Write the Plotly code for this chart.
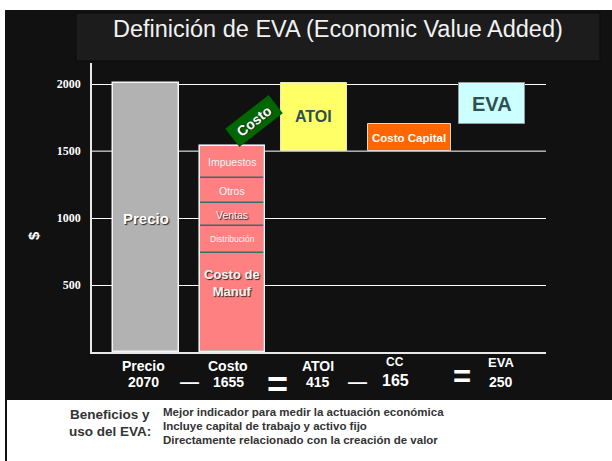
import plotly.graph_objects as go

# ---------------- data ----------------
categories = ["Precio", "Costo", "ATOI", "CC", "EVA"]
formula_values = [2070, 1655, 415, 165, 250]

precio_height = 2010
costo_parts = ["Costo de<br>Manuf", "Distribución", "Ventas", "Otros", "Impuestos"]
costo_heights = [740, 200, 170, 190, 240]
atoi_base, atoi_height = 1500, 510
cc_base, cc_height = 1500, 200
eva_base, eva_height = 1700, 310

yticks = [500, 1000, 1500, 2000]

title_text = "Definición de EVA (Economic Value Added)"
benefit_head = ["Beneficios y", "uso del EVA:"]
benefit_lines = [
    "Mejor indicador para medir la actuación económica",
    "Incluye capital de trabajo y activo fijo",
    "Directamente relacionado con la creación de valor",
]

# ---------------- layout helpers ----------------
W_PX, H_PX = 612, 461
L, R, T, B = 92, 546, 63, 352
PW, PH = R - L, B - T
XR = [-0.624, 4.624]


def px(x):
    return (x - L) / PW


def py(y):
    return (B - y) / PH


SANS = "Liberation Sans, Arial, sans-serif"
SERIF = "Liberation Serif, Times New Roman, serif"
SHADOW = "1px 1px 1px #222"
SLATE = "#2F5050"

# small horizontal nudges (category units) for the boxes
shift = [0.0, 0.0, -0.058, 0.046, 0.0]
widths = [0.76, 0.76, 0.76, 0.97, 0.77]


def bar(idx, heights, bases_, color, line_color, line_w, n=1):
    return go.Bar(x=[categories[idx]] * n, y=heights, base=bases_, width=widths[idx],
                  offset=-widths[idx] / 2 + shift[idx],
                  marker=dict(color=color, line=dict(color=line_color, width=line_w)),
                  hoverinfo="skip", showlegend=False)


fig = go.Figure()

fig.add_trace(bar(0, [precio_height], [0], "#B2B2B2", "#F4F4F4", 1.5))

bases = []
acc = 0
for h in costo_heights:
    bases.append(acc)
    acc += h
fig.add_trace(bar(1, costo_heights, bases, "#FF8080", "#3C6A6A", 1.5, n=len(costo_heights)))
fig.add_trace(bar(1, [acc], [0], "rgba(0,0,0,0)", "#F4F4F4", 1.5))

fig.add_trace(bar(2, [atoi_height], [atoi_base], "#FFFF66", "#E8E8C0", 1))
fig.add_trace(bar(3, [cc_height], [cc_base], "#FF6600", "#D8D8D8", 1))
fig.add_trace(bar(4, [eva_height], [eva_base], "#CCFFFF", "#9A9A9A", 1))

shapes = [
    dict(type="rect", xref="paper", yref="paper", x0=px(6), x1=px(612), y0=py(400), y1=py(10),
         fillcolor="#111111", line=dict(width=0), layer="below"),
    dict(type="line", xref="paper", yref="paper", x0=px(6), x1=px(6), y0=py(461), y1=py(10),
         line=dict(color="#111111", width=2), layer="below"),
    dict(type="rect", xref="paper", yref="paper", x0=px(76), x1=px(600), y0=py(61), y1=py(13),
         fillcolor="#1C1C1C", line=dict(color="#0A0A0A", width=1), layer="below"),
    # gray 1500 gridline (over the grid, under the bars)
    dict(type="line", xref="x", yref="y", x0=XR[0], x1=XR[1], y0=1500, y1=1500,
         line=dict(color="#8C8C8C", width=1.5), layer="between"),
]

ann = []


def add(**kw):
    kw.setdefault("showarrow", False)
    kw.setdefault("xanchor", "center")
    kw.setdefault("yanchor", "middle")
    kw.setdefault("xref", "paper")
    kw.setdefault("yref", "paper")
    ann.append(kw)


add(text=title_text, x=px(338), y=py(29), font=dict(family=SANS, size=23.5, color="#F2F2F2"))
add(text="$", x=px(33), y=py(235), textangle=-90,
    font=dict(family=SANS, size=15, color="white", weight="bold"))

add(text="Precio", x=0, y=1000, xref="x", yref="y",
    font=dict(family=SANS, size=15, color="white", weight="bold", shadow=SHADOW))
seg_sizes = [13, 8.5, 10.5, 10.5, 10.5]
for i, (name, h) in enumerate(zip(costo_parts, costo_heights)):
    yy = bases[i] + h / 2 if i > 0 else bases[i] + h * 0.7
    add(text=name, x=1, y=yy, xref="x", yref="y",
        font=dict(family=SANS, size=seg_sizes[i], color="#F6F6F6",
                  weight="bold" if i == 0 else "normal",
                  shadow=SHADOW if i in (0, 2) else "none"))
add(text="ATOI", x=2 + shift[2], y=1755, xref="x", yref="y",
    font=dict(family=SANS, size=16, color=SLATE, weight="bold"))
add(text="Costo Capital", x=3 + shift[3], y=cc_base + cc_height / 2, xref="x", yref="y",
    font=dict(family=SANS, size=11.5, color="white", weight="bold"))
add(text="EVA", x=4, y=1850, xref="x", yref="y",
    font=dict(family=SANS, size=20, color=SLATE, weight="bold"))

add(text="Costo", x=px(254), y=py(121), textangle=-38, bgcolor="#006600", borderpad=3, width=48,
    font=dict(family=SANS, size=14, color="white", weight="bold", shadow=SHADOW))

label_x = [143, 228, 318, 395, 501]
label_y = [366, 366, 366, 362, 362]
value_y = [382, 382, 382, 380, 382]
label_sizes = [14, 14, 14, 12, 13]
value_sizes = [14, 14, 14, 16, 14]
for c, v, lx, ly, vy, ls, vs in zip(categories, formula_values, label_x, label_y, value_y,
                                    label_sizes, value_sizes):
    add(text=c, x=px(lx), y=py(ly), font=dict(family=SANS, size=ls, color="white", weight="bold"))
    add(text=str(v), x=px(lx), y=py(vy), font=dict(family=SANS, size=vs, color="white", weight="bold"))

ops = [("—", 189, 381, 19), ("=", 277, 384, 36), ("—", 357, 381, 19), ("=", 462, 376, 31)]
for sym, ox, oy, sz in ops:
    add(text=sym, x=px(ox), y=py(oy), font=dict(family=SANS, size=sz, color="white", weight="bold"))

for txt, yy in zip(benefit_head, [414, 431]):
    add(text=txt, x=px(110), y=py(yy), font=dict(family=SANS, size=13.5, color="#333333", weight="bold"))
for txt, yy in zip(benefit_lines, [412, 426, 440]):
    add(text=txt, x=px(161), y=py(yy), xanchor="left",
        font=dict(family=SANS, size=11.5, color="#333333", weight="bold"))

fig.update_layout(
    width=W_PX, height=H_PX, autosize=False,
    margin=dict(l=L, r=W_PX - R, t=T, b=H_PX - B, pad=0),
    paper_bgcolor="white", plot_bgcolor="rgba(0,0,0,0)",
    barmode="overlay", bargap=0,
    shapes=shapes, annotations=ann,
    xaxis=dict(type="category", categoryorder="array", categoryarray=categories,
               range=XR, showgrid=False, zeroline=False,
               showline=True, linecolor="#E8E8E8", linewidth=1.5,
               showticklabels=False, ticks="", fixedrange=True),
    yaxis=dict(range=[0, 2157], tickvals=yticks, ticktext=[str(t) for t in yticks],
               showgrid=True, gridcolor="white", gridwidth=1, zeroline=False,
               showline=True, linecolor="#E8E8E8", linewidth=1.5, ticks="",
               ticklabelstandoff=7,
               tickfont=dict(family=SERIF, size=12, color="white", weight="bold"),
               fixedrange=True),
)

fig.write_html("out.html", config={"displayModeBar": False},
               post_script="document.body.style.margin='0';")
